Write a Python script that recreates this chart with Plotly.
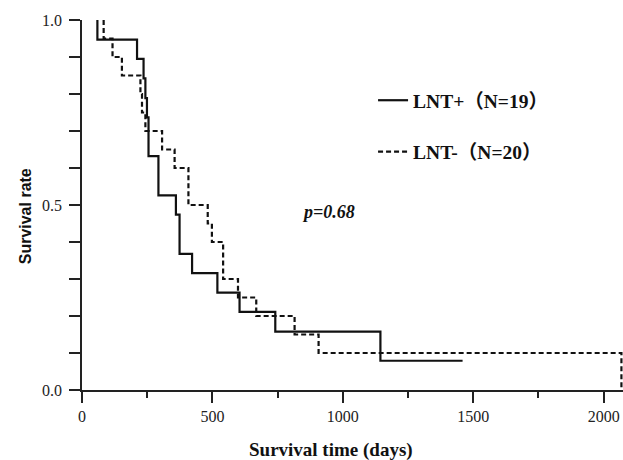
import plotly.graph_objects as go

# Kaplan-Meier step points (day, survival after event)
lnt_pos_days = [59, 59, 211, 236, 243, 249, 255, 293, 360, 374, 422, 519, 604, 741, 1144, 1459]
lnt_pos_surv = [1.0, 0.947, 0.895, 0.842, 0.789, 0.737, 0.632, 0.526, 0.474, 0.368,
                0.316, 0.263, 0.211, 0.158, 0.079, 0.079]

lnt_neg_days = [83, 83, 117, 153, 224, 230, 243, 307, 355, 408, 482, 498, 541, 598, 668, 815, 907, 2068]
lnt_neg_surv = [1.0, 0.95, 0.90, 0.85, 0.80, 0.75, 0.70, 0.65, 0.60, 0.50, 0.45, 0.40,
                0.30, 0.25, 0.20, 0.15, 0.10, 0.0]

series_names = ["LNT+（N=19）", "LNT-（N=20）"]
x_ticks = [0, 500, 1000, 1500, 2000]
y_ticks = [0.0, 0.1, 0.2, 0.3, 0.4, 0.5, 0.6, 0.7, 0.8, 0.9, 1.0]
y_ticktext = ["0.0", "", "", "", "", "0.5", "", "", "", "", "1.0"]
p_text = "p=0.68"
x_title = "Survival time (days)"
y_title = "Survival rate"

serif = "Liberation Serif, Times New Roman, Noto Sans CJK SC, serif"
sans = "Liberation Sans, Arial, sans-serif"

fig = go.Figure()
fig.add_trace(go.Scatter(
    x=lnt_pos_days, y=lnt_pos_surv, mode="lines", line_shape="hv",
    line=dict(color="#111111", width=2.2), name=series_names[0], legendgroup="a"))
fig.add_trace(go.Scatter(
    x=lnt_neg_days, y=lnt_neg_surv, mode="lines", line_shape="hv",
    line=dict(color="#111111", width=2.2, dash="5px,3px"), name=series_names[1], legendgroup="b"))

fig.add_annotation(
    x=0.455, y=0.481, xref="paper", yref="paper", text="<b><i>" + p_text + "</i></b>",
    showarrow=False, font=dict(family=serif, size=18, color="#111111"))
fig.add_annotation(
    x=0.46, y=-0.162, xref="paper", yref="paper", text="<b>" + x_title + "</b>",
    showarrow=False, yanchor="middle", font=dict(family=serif, size=19, color="#111111"))
fig.add_annotation(
    x=-0.105, y=0.47, xref="paper", yref="paper", text="<b>" + y_title + "</b>",
    textangle=-90, showarrow=False, xanchor="center", yanchor="middle",
    font=dict(family=sans, size=16, color="#111111"))

fig.update_layout(
    width=623, height=460,
    margin=dict(l=82, r=0, t=20, b=70),
    paper_bgcolor="white", plot_bgcolor="white",
    legend=dict(x=0.538, y=0.835, xanchor="left", yanchor="top",
                font=dict(family=serif, size=19.5, color="#111111", weight="bold"),
                tracegroupgap=23, bgcolor="rgba(0,0,0,0)"),
    xaxis=dict(
        range=[0, 2074], tickvals=x_ticks, ticks="outside", ticklen=11, tickwidth=1.5,
        tickcolor="#222", showline=True, linecolor="#222", linewidth=1.5,
        showgrid=False, zeroline=False, automargin=False,
        minor=dict(dtick=250, tick0=0, ticks="outside", ticklen=6, tickwidth=1.5, tickcolor="#222"),
        tickfont=dict(family=serif, size=16, color="#222")),
    yaxis=dict(
        range=[0, 1], tickvals=y_ticks, ticktext=y_ticktext, ticks="outside", ticklen=11,
        tickwidth=1.5, tickcolor="#222", showline=True, linecolor="#222", linewidth=1.5,
        showgrid=False, zeroline=False, automargin=False, ticklabelstandoff=4,
        tickfont=dict(family=serif, size=16, color="#222")),
)

# remove the browser's default body margin so the 623x460 figure fills the window exactly
fig.write_html("out.html", config={"displayModeBar": False},
               post_script="document.body.style.margin='0';")
